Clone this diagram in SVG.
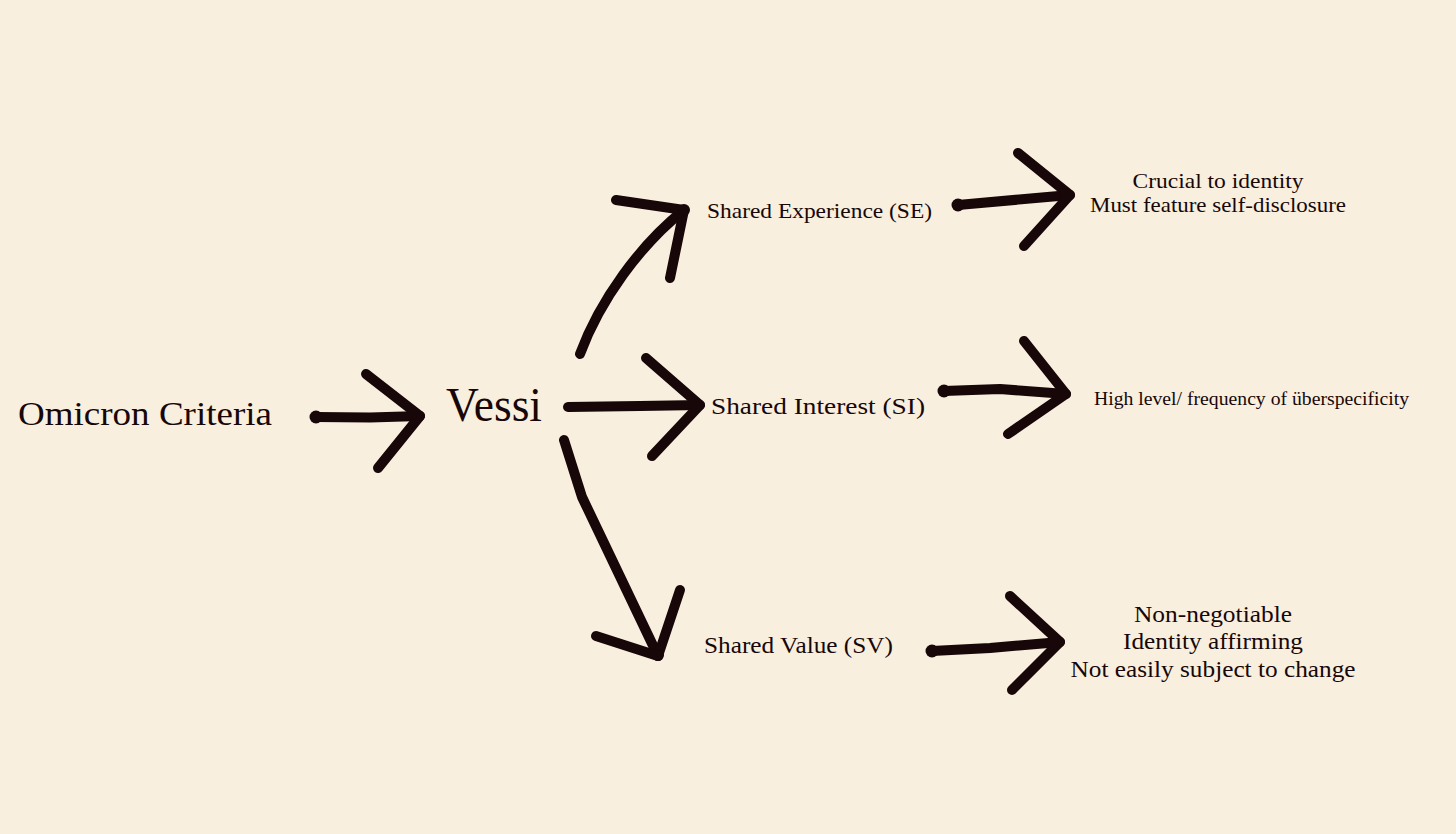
<svg xmlns="http://www.w3.org/2000/svg" width="1456" height="834" viewBox="0 0 1456 834">
<style>
.bg{fill:#F8EFDF}
.s{fill:none;stroke:#170708;stroke-width:10;stroke-linecap:round;stroke-linejoin:round}
.d{fill:#170708}
.t{font-family:"Liberation Serif","DejaVu Serif",serif;fill:#170708}
</style>
<rect class="bg" width="1456" height="834"/>
<g id="connectors">
<g id="arrow-omicron-vessi"><path class="s" d="M316,417 L370,417.5 L420,416"/><path class="s" d="M366,374 L420,416 L378,468"/><circle class="d" cx="316" cy="417" r="6.5"/></g>
<g id="arrow-vessi-se"><path class="s" d="M580,354 C600,300 640,245 684,210"/><path class="s" d="M616,200 L684,210 L670,278"/><circle class="d" cx="684" cy="210" r="6"/></g>
<g id="arrow-vessi-si"><path class="s" d="M568,407 L640,406 L700,405"/><path class="s" d="M646,358 L700,405 L652,456"/></g>
<g id="arrow-vessi-sv"><path class="s" d="M564,440 L582,497 L658,656"/><path class="s" d="M596,636 L658,656 L680,590"/><circle class="d" cx="658" cy="655" r="6"/></g>
<g id="arrow-se-detail"><path class="s" d="M958,205 L1070,195"/><path class="s" d="M1018,153 L1070,195 L1024,246"/><circle class="d" cx="958" cy="205" r="6.5"/></g>
<g id="arrow-si-detail"><path class="s" d="M944,391 L1000,389 L1066,394"/><path class="s" d="M1024,341 L1066,394 L1008,434"/><circle class="d" cx="944" cy="391" r="6.5"/></g>
<g id="arrow-sv-detail"><path class="s" d="M932,651 L990,648 L1060,642"/><path class="s" d="M1010,596 L1060,642 L1012,690"/><circle class="d" cx="932" cy="651" r="6.5"/></g>
</g>
<g id="node-omicron"><text class="t" x="18" y="425" font-size="33" textLength="254" lengthAdjust="spacingAndGlyphs">Omicron Criteria</text></g>
<g id="node-vessi"><text class="t" x="446" y="421" font-size="48" textLength="96" lengthAdjust="spacingAndGlyphs">Vessi</text></g>
<g id="node-se"><text class="t" x="707" y="218" font-size="22" textLength="225" lengthAdjust="spacingAndGlyphs">Shared Experience (SE)</text></g>
<g id="node-si"><text class="t" x="711" y="414" font-size="24" textLength="214" lengthAdjust="spacingAndGlyphs">Shared Interest (SI)</text></g>
<g id="node-sv"><text class="t" x="704" y="653" font-size="23" textLength="189" lengthAdjust="spacingAndGlyphs">Shared Value (SV)</text></g>
<g id="node-se-detail" text-anchor="middle">
<text class="t" x="1218" y="188" font-size="21" textLength="171" lengthAdjust="spacingAndGlyphs">Crucial to identity</text>
<text class="t" x="1218" y="212" font-size="21" textLength="256" lengthAdjust="spacingAndGlyphs">Must feature self-disclosure</text>
</g>
<g id="node-si-detail"><text class="t" x="1094" y="405" font-size="18" textLength="315" lengthAdjust="spacingAndGlyphs">High level/ frequency of überspecificity</text></g>
<g id="node-sv-detail" text-anchor="middle">
<text class="t" x="1213" y="622" font-size="23" textLength="158" lengthAdjust="spacingAndGlyphs">Non-negotiable</text>
<text class="t" x="1213" y="649" font-size="23" textLength="180" lengthAdjust="spacingAndGlyphs">Identity affirming</text>
<text class="t" x="1213" y="677" font-size="23" textLength="285" lengthAdjust="spacingAndGlyphs">Not easily subject to change</text>
</g>
</svg>
